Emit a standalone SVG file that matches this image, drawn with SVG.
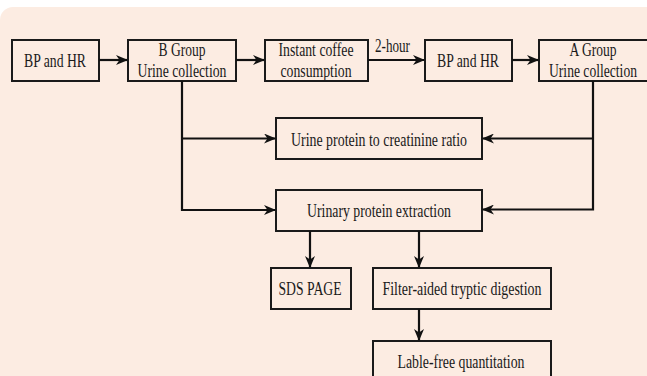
<svg xmlns="http://www.w3.org/2000/svg" width="647" height="376" viewBox="0 0 647 376">
<defs>
<style>
.bx{fill:none;stroke:#1a1a1a;stroke-width:2}
.t{font-family:"Liberation Serif","Times New Roman",serif;font-size:18px;fill:#1a1a1a;text-anchor:middle}
.c{fill:none;stroke:#111;stroke-width:2.2}
</style>
<marker id="ah" viewBox="0 0 12 10" refX="11" refY="5" markerWidth="12" markerHeight="10" markerUnits="userSpaceOnUse" orient="auto">
<path d="M0,0 L12,5 L0,10 L3.5,5 z" fill="#111"/>
</marker>
</defs>
<rect x="0" y="0" width="647" height="376" fill="#ffffff"/>
<rect x="0" y="7" width="670" height="390" rx="13" fill="#fcece2"/>

<g id="n1"><rect class="bx" x="12" y="40" width="87" height="41"/><text class="t" x="55" y="66.5" textLength="62" lengthAdjust="spacingAndGlyphs">BP and HR</text></g>
<g id="n2"><rect class="bx" x="128" y="40" width="108" height="41"/><text class="t" x="182" y="56" textLength="47" lengthAdjust="spacingAndGlyphs">B Group</text><text class="t" x="182" y="77" textLength="89" lengthAdjust="spacingAndGlyphs">Urine collection</text></g>
<g id="n3"><rect class="bx" x="265" y="40" width="103" height="41"/><text class="t" x="316" y="56" textLength="75" lengthAdjust="spacingAndGlyphs">Instant coffee</text><text class="t" x="316" y="77" textLength="71" lengthAdjust="spacingAndGlyphs">consumption</text></g>
<g id="n4"><rect class="bx" x="425" y="40" width="87" height="41"/><text class="t" x="468" y="66.5" textLength="62" lengthAdjust="spacingAndGlyphs">BP and HR</text></g>
<g id="n5"><rect class="bx" x="539" y="40" width="115" height="41"/><text class="t" x="593" y="56" textLength="47" lengthAdjust="spacingAndGlyphs">A Group</text><text class="t" x="593" y="77" textLength="88" lengthAdjust="spacingAndGlyphs">Urine collection</text></g>
<g id="n6"><rect class="bx" x="276" y="118" width="206" height="41"/><text class="t" x="379" y="145.5" textLength="176" lengthAdjust="spacingAndGlyphs">Urine protein to creatinine ratio</text></g>
<g id="n7"><rect class="bx" x="276" y="190" width="206" height="41"/><text class="t" x="379" y="216.5" textLength="144" lengthAdjust="spacingAndGlyphs">Urinary protein extraction</text></g>
<g id="n8"><rect class="bx" x="271" y="268" width="80" height="41"/><text class="t" x="310" y="295" textLength="63" lengthAdjust="spacingAndGlyphs">SDS PAGE</text></g>
<g id="n9"><rect class="bx" x="373" y="268" width="178" height="41"/><text class="t" x="462" y="295" textLength="159" lengthAdjust="spacingAndGlyphs">Filter-aided tryptic digestion</text></g>
<g id="n10"><rect class="bx" x="373" y="341" width="178" height="45"/><text class="t" x="461" y="368" textLength="127" lengthAdjust="spacingAndGlyphs">Lable-free quantitation</text></g>

<g id="connectors">
<line class="c" x1="99" y1="60" x2="127" y2="60" marker-end="url(#ah)"/>
<line class="c" x1="236" y1="60" x2="264" y2="60" marker-end="url(#ah)"/>
<line class="c" x1="368" y1="60" x2="424" y2="60" marker-end="url(#ah)"/>
<text class="t" x="392.5" y="51.5" textLength="35" lengthAdjust="spacingAndGlyphs">2-hour</text>
<line class="c" x1="512" y1="60" x2="538" y2="60" marker-end="url(#ah)"/>
<polyline class="c" points="182,81 182,210 275,210" marker-end="url(#ah)"/>
<line class="c" x1="182" y1="138.5" x2="275" y2="138.5" marker-end="url(#ah)"/>
<polyline class="c" points="593,81 593,209.5 483,209.5" marker-end="url(#ah)"/>
<line class="c" x1="593" y1="138.5" x2="483" y2="138.5" marker-end="url(#ah)"/>
<line class="c" x1="310" y1="231" x2="310" y2="267" marker-end="url(#ah)"/>
<line class="c" x1="419" y1="231" x2="419" y2="267" marker-end="url(#ah)"/>
<line class="c" x1="419" y1="309" x2="419" y2="340" marker-end="url(#ah)"/>
</g>
</svg>
